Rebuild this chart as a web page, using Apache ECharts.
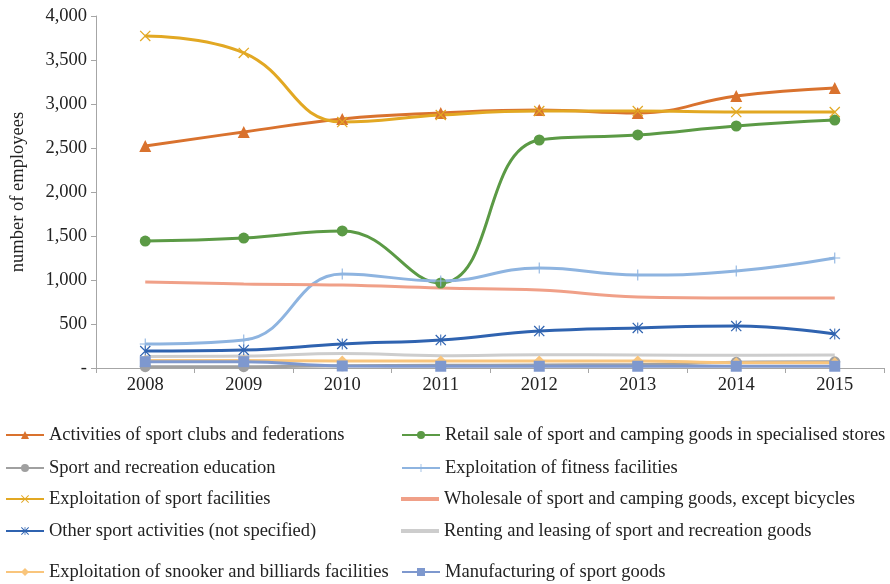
<!DOCTYPE html>
<html>
<head>
<meta charset="utf-8">
<script src="https://cdn.jsdelivr.net/npm/echarts@6/dist/echarts.min.js"></script>
<style>
  html, body { margin: 0; padding: 0; background: #fff; }
  #chart { width: 890px; height: 584px; }
</style>
</head>
<body>
<div id="chart"></div>
<script>
// Years on the category axis
const years = ['2008', '2009', '2010', '2011', '2012', '2013', '2014', '2015'];

// Employees per activity
const sportClubs      = [2523, 2682, 2830, 2898, 2932, 2898, 3091, 3182];
const retailSale      = [1443, 1477, 1557, 966, 2591, 2648, 2750, 2818];
const recreationEdu   = [15, 15, 25, 30, 35, 40, 65, 70];
const fitness         = [273, 318, 1068, 989, 1136, 1057, 1102, 1250];
const sportFacilities = [3773, 3580, 2795, 2875, 2920, 2920, 2909, 2909];
const wholesale       = [977, 955, 943, 909, 886, 807, 795, 795];
const otherActivities = [193, 205, 273, 318, 420, 455, 477, 386];
const renting         = [130, 135, 165, 140, 150, 148, 145, 148];
const snooker         = [85, 85, 80, 80, 80, 80, 60, 60];
const manufacturing   = [72, 72, 23, 20, 20, 20, 20, 20];

// Y axis ticks
const yMin = 0, yMax = 4000, yStep = 500;

const FONT = '"Liberation Serif", "Times New Roman", serif';
const FS = 18.5;

// Thin stroke-like marker glyphs
const PLUS = 'path://M4.5,0h1v10h-1z M0,4.5h10v1h-10z';
const CROSS = 'path://M0,0.8L0.8,0L10,9.2L9.2,10Z M9.2,0L10,0.8L0.8,10L0,9.2Z';
const STAR = 'path://M0,0.8L0.8,0L10,9.2L9.2,10Z M9.2,0L10,0.8L0.8,10L0,9.2Z M4.55,0h0.9v10h-0.9z';

const seriesDefs = [
  { name: 'Activities of sport clubs and federations', data: sportClubs, color: '#D9722E', symbol: 'triangle', size: 12 },
  { name: 'Retail sale of sport and camping goods in specialised stores', data: retailSale, color: '#5B9A45', symbol: 'circle', size: 11 },
  { name: 'Sport and recreation education', data: recreationEdu, color: '#A0A0A0', symbol: 'circle', size: 11 },
  { name: 'Exploitation of fitness facilities', data: fitness, color: '#8EB4E0', symbol: PLUS, size: 11 },
  { name: 'Exploitation of sport facilities', data: sportFacilities, color: '#E2A823', symbol: CROSS, size: 11 },
  { name: 'Wholesale of sport and camping goods, except bicycles', data: wholesale, color: '#F0A088', symbol: 'none', size: 0 },
  { name: 'Other sport activities (not specified)', data: otherActivities, color: '#2F63B0', symbol: STAR, size: 11 },
  { name: 'Renting and leasing of sport and recreation goods', data: renting, color: '#CDCDCD', symbol: 'none', size: 0 },
  { name: 'Exploitation of snooker and billiards facilities', data: snooker, color: '#F9C57C', symbol: 'diamond', size: 11 },
  { name: 'Manufacturing of sport goods', data: manufacturing, color: '#7E98CE', symbol: 'rect', size: 11 }
];

const series = seriesDefs.map(d => ({
  name: d.name,
  type: 'line',
  data: d.data,
  smooth: 0.45,
  symbol: d.symbol,
  symbolSize: d.size,
  showSymbol: d.symbol !== 'none',
  lineStyle: { color: d.color, width: 3 },
  itemStyle: { color: d.color },
  emphasis: { disabled: true }
}));

// Two-column legend, one component per entry
const legendRows = [433, 466, 497, 529, 570];
const legendCols = [5, 401];
const legends = seriesDefs.map((d, i) => {
  const entry = { name: d.name };
  let h = 10;
  if (d.symbol === 'none') {
    entry.icon = 'path://M0,0h10v1h-10z';
    h = 4;
  }
  return {
    data: [entry],
    left: legendCols[i % 2],
    top: legendRows[Math.floor(i / 2)] - 7.5,
    padding: 0,
    orient: 'horizontal',
    itemWidth: 38,
    itemHeight: h,
    selectedMode: false,
    textStyle: { fontFamily: FONT, fontSize: FS, color: '#222' }
  };
});

const chart = echarts.init(document.getElementById('chart'), null, { renderer: 'canvas' });
chart.setOption({
  animation: false,
  backgroundColor: '#fff',
  grid: { left: 96, right: 6, top: 16, bottom: 216, containLabel: false },
  legend: legends,
  xAxis: {
    type: 'category',
    data: years,
    boundaryGap: true,
    axisLine: { lineStyle: { color: '#A6A6A6', width: 1 } },
    axisTick: { show: true, length: 5, lineStyle: { color: '#A6A6A6' } },
    axisLabel: { fontFamily: FONT, fontSize: FS, color: '#222', margin: 8 }
  },
  yAxis: {
    type: 'value',
    min: yMin,
    max: yMax,
    interval: yStep,
    name: 'number of employees',
    nameLocation: 'middle',
    nameGap: 68,
    nameRotate: 90,
    nameTextStyle: { fontFamily: FONT, fontSize: FS, color: '#222' },
    splitLine: { show: false },
    axisLine: { show: true, lineStyle: { color: '#A6A6A6', width: 1 } },
    axisTick: { show: true, length: 5, inside: false, lineStyle: { color: '#A6A6A6' } },
    axisLabel: {
      fontFamily: FONT, fontSize: FS, color: '#222', margin: 9,
      formatter: v => v === 0 ? '-' : v.toLocaleString('en-US')
    }
  },
  series: series
});
</script>
</body>
</html>
